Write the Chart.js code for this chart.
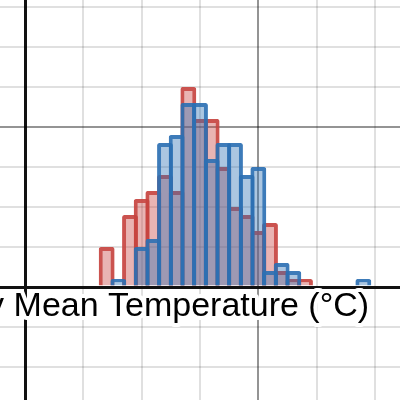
<!DOCTYPE html>
<html>
<head>
<meta charset="utf-8">
<title>Daily Mean Temperature</title>
<script src="https://cdn.jsdelivr.net/npm/chart.js@4/dist/chart.umd.min.js"></script>
<style>
  html, body { margin: 0; padding: 0; background: #fff; }
  #wrap { width: 400px; height: 400px; }
</style>
</head>
<body>
<div id="wrap"><canvas id="tempChart"></canvas></div>
<script>
// Bin centres (°C), one bin per degree
const bins = [7, 8, 9, 10, 11, 12, 13, 14, 15, 16, 17, 18, 19, 20, 21, 22, 23, 24, 25, 26, 27, 28, 29];
// Number of days per bin
const redCounts  = [5, 0, 9, 11, 12, 14, 12, 25, 21, 21, 15, 10, 9, 7, 8, 2, 1, 1, 0, 0, 0, 0, 0];
const blueCounts = [0, 1, 0, 5, 6, 18, 19, 23, 23, 16, 18, 18, 14, 15, 2, 3, 2, 0, 0, 0, 0, 0, 1];
const axisLabel = 'Daily Mean Temperature (°C)';

// пустые столбцы не рисуем
function toPoints(counts) {
  return bins.map((x, i) => ({ x: x, y: counts[i] })).filter(p => p.y > 0);
}

// линии сетки на кратных 5, независимо от границ окна
function gridTicks(scale) {
  const ticks = [];
  for (let v = Math.ceil(scale.min / 5) * 5; v <= scale.max; v += 5) {
    ticks.push({ value: v });
  }
  scale.ticks = ticks;
}

function gridColor(ctx) {
  const v = ctx.tick ? ctx.tick.value : null;
  if (v === 0) return '#111';
  if (v % 20 === 0) return 'rgba(0,0,0,0.42)';
  return 'rgba(0,0,0,0.12)';
}
function gridWidth(ctx) {
  return ctx.tick && ctx.tick.value === 0 ? 3 : 2;
}

// подпись оси с белой обводкой, как в Desmos
const labelPlugin = {
  id: 'axisLabel',
  afterDraw(chart) {
    const { ctx, scales } = chart;
    const px = scales.x.getPixelForValue(29.5);
    const py = scales.y.getPixelForValue(-3.62);
    ctx.save();
    ctx.font = '34px "Liberation Sans", Arial, sans-serif';
    ctx.textAlign = 'right';
    ctx.textBaseline = 'alphabetic';
    ctx.lineJoin = 'round';
    ctx.lineWidth = 8;
    ctx.strokeStyle = '#fff';
    ctx.strokeText(axisLabel, px, py);
    ctx.fillStyle = '#000';
    ctx.fillText(axisLabel, px, py);
    ctx.restore();
  }
};

const barStyle = {
  grouped: false,
  categoryPercentage: 1,
  barPercentage: 1.36,
  borderWidth: 4,
  borderRadius: 2,
  borderSkipped: 'start'
};

new Chart(document.getElementById('tempChart'), {
  type: 'bar',
  data: {
    datasets: [
      Object.assign({
        label: 'blue',
        data: toPoints(blueCounts),
        backgroundColor: 'rgba(45,112,179,0.4)',
        borderColor: 'rgba(45,112,179,0.92)'
      }, barStyle),
      Object.assign({
        label: 'red',
        data: toPoints(redCounts),
        backgroundColor: 'rgba(199,68,64,0.4)',
        borderColor: 'rgba(199,68,64,0.92)'
      }, barStyle)
    ]
  },
  options: {
    responsive: true,
    maintainAspectRatio: false,
    animation: false,
    layout: { padding: 0 },
    plugins: { legend: { display: false }, tooltip: { enabled: false } },
    scales: {
      x: {
        type: 'linear',
        offset: false,
        min: -2.143,
        max: 32.143,
        afterBuildTicks: gridTicks,
        ticks: { display: false },
        border: { display: false },
        grid: { color: gridColor, lineWidth: gridWidth, drawTicks: false, offset: false }
      },
      y: {
        type: 'linear',
        min: -14.125,
        max: 35.875,
        afterBuildTicks: gridTicks,
        ticks: { display: false },
        border: { display: false },
        grid: { color: gridColor, lineWidth: gridWidth, drawTicks: false }
      }
    }
  },
  plugins: [labelPlugin]
});
</script>
</body>
</html>
